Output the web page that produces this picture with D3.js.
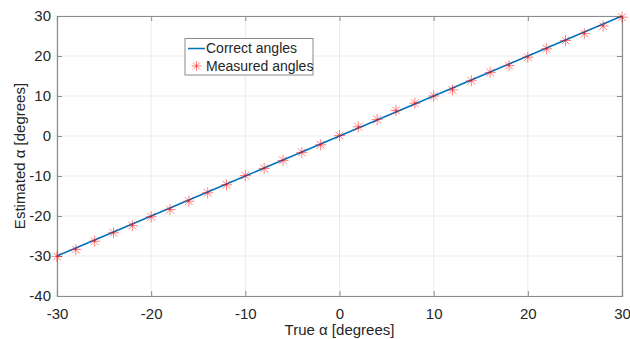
<!DOCTYPE html>
<html><head><meta charset="utf-8">
<script src="https://cdn.jsdelivr.net/npm/d3@7"></script>
<style>body{margin:0;background:#fff}svg{display:block}text{font-family:"Liberation Sans",Arial,sans-serif}</style>
</head><body><svg id="c" width="630" height="339"></svg>
<script>
const trueAngles = [-30,-28,-26,-24,-22,-20,-18,-16,-14,-12,-10,-8,-6,-4,-2,0,2,4,6,8,10,12,14,16,18,20,22,24,26,28,30];
const measuredAngles = [-30.1,-28.4,-26.3,-24.2,-22.4,-20.2,-18.4,-16.3,-14.2,-12.2,-9.9,-8.1,-6.1,-4.1,-2.2,0.1,2.3,4.1,6.4,8.2,10,11.5,13.8,15.9,17.6,19.7,21.8,23.9,25.6,27.5,29.7];
const xTicks = [-30,-20,-10,0,10,20,30];
const yTicks = [-40,-30,-20,-10,0,10,20,30];
const xLabel = "True α [degrees]";
const yLabel = "Estimated α [degrees]";
const legendLabels = ["Correct angles","Measured angles"];

const svg = d3.select("#c");
const L=57, R=622, T=16, B=296;
const x = d3.scaleLinear().domain([-30,30]).range([L,R]);
const y = d3.scaleLinear().domain([-40,30]).range([B,T]);
const axisCol="#8c8c8c", textCol="#262626";
const fmt = d => String(d);

// grid
const g = svg.append("g");
g.selectAll(".gx").data(xTicks).join("line").attr("x1",d=>x(d)).attr("x2",d=>x(d)).attr("y1",T).attr("y2",B).attr("stroke","#ebebeb");
g.selectAll(".gy").data(yTicks).join("line").attr("y1",d=>y(d)).attr("y2",d=>y(d)).attr("x1",L).attr("x2",R).attr("stroke","#ebebeb");

// axes
const xa = svg.append("g").attr("transform",`translate(0,${B})`).call(d3.axisBottom(x).tickValues(xTicks).tickSize(-5).tickPadding(12).tickFormat(fmt));
const ya = svg.append("g").attr("transform",`translate(${L},0)`).call(d3.axisLeft(y).tickValues(yTicks).tickSize(-5).tickPadding(6).tickFormat(fmt));
const xt = svg.append("g").attr("transform",`translate(0,${T})`).call(d3.axisTop(x).tickValues(xTicks).tickSize(-5).tickFormat(""));
const yr = svg.append("g").attr("transform",`translate(${R},0)`).call(d3.axisRight(y).tickValues(yTicks).tickSize(-5).tickFormat(""));
[xa,ya,xt,yr].forEach(a=>{a.select(".domain").attr("stroke",axisCol).attr("stroke-width",1.2);a.selectAll(".tick line").attr("stroke",axisCol);a.selectAll("text").attr("fill",textCol).style("font-size","15px").style("font-family","'Liberation Sans',Arial,sans-serif");});
xa.selectAll("text").attr("dy","0.71em");

// line
svg.append("path").datum(trueAngles).attr("fill","none").attr("stroke","#0072BD").attr("stroke-width",1.5)
  .attr("d",d3.line().x(d=>x(d)).y(d=>y(d)));

// markers
function star(sel,r){
  const a=r*0.7071;
  sel.append("path").attr("d",`M${-r},0L${r},0M0,${-r}L0,${r}M${-a},${-a}L${a},${a}M${-a},${a}L${a},${-a}`)
    .attr("stroke","#ff0000").attr("stroke-opacity",0.5).attr("stroke-width",1).attr("fill","none");
}
const mk = svg.append("g").selectAll("g").data(trueAngles).join("g").attr("transform",(d,i)=>`translate(${x(d)},${y(measuredAngles[i])})`);
mk.each(function(){star(d3.select(this),5.5);});

// legend
const lg = svg.append("g");
lg.append("rect").attr("x",185).attr("y",38.5).attr("width",128).attr("height",36.5).attr("fill","#fff").attr("stroke","#8c8c8c");
lg.append("line").attr("x1",188).attr("x2",205).attr("y1",48.5).attr("y2",48.5).attr("stroke","#0072BD").attr("stroke-width",1.5);
star(lg.append("g").attr("transform","translate(196.5,66)"),5);
lg.selectAll("text").data(legendLabels).join("text").attr("x",206).attr("y",(d,i)=>48.5+i*17.5).attr("dy","0.35em")
  .attr("fill",textCol).style("font-size","14px").text(d=>d);

// labels
svg.append("text").attr("x",(L+R)/2).attr("y",335).attr("text-anchor","middle").attr("fill",textCol).style("font-size","15px").text(xLabel);
svg.append("text").attr("transform",`translate(25,${(T+B)/2}) rotate(-90)`).attr("text-anchor","middle").attr("fill",textCol).style("font-size","15px").text(yLabel);
</script></body></html>
